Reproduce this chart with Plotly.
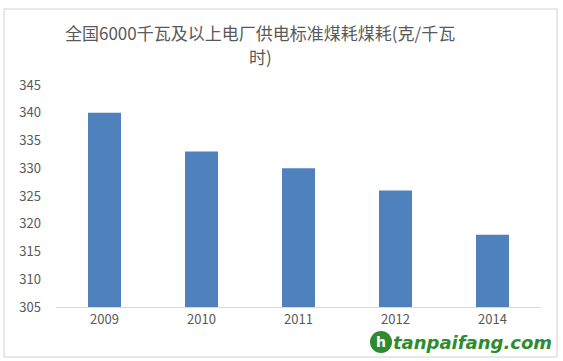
import plotly.graph_objects as go

years = ["2009", "2010", "2011", "2012", "2014"]
values = [340, 333, 330, 326, 318]
y_ticks = [305, 310, 315, 320, 325, 330, 335, 340, 345]
title_lines = ["全国6000千瓦及以上电厂供电标准煤耗煤耗(克/千瓦", "时)"]

W, H = 563, 361
L, R, T, B = 56, 22, 85, 54
PW, PH = W - L - R, H - T - B


def px(x):
    return (x - L) / PW


def py(y):
    return (H - B - y) / PH


fig = go.Figure()
fig.add_trace(go.Bar(x=years, y=values, marker=dict(color="#4F81BD", line=dict(width=0))))

annotations = []
for i, line in enumerate(title_lines):
    annotations.append(dict(text=line, xref="paper", yref="paper", x=px(260), y=py(32 + 24 * i),
                            xanchor="center", yanchor="middle", showarrow=False,
                            font=dict(size=17, color="#595959")))
annotations.append(dict(text="<b><i>tanpaifang.com</i></b>", xref="paper", yref="paper",
                        x=px(554), y=py(342), xanchor="right", yanchor="middle",
                        showarrow=False,
                        font=dict(family="DejaVu Sans, sans-serif", size=18, color="#2E8B2E")))
annotations.append(dict(text="<b>h</b>", xref="paper", yref="paper",
                        x=px(381), y=py(342), xanchor="center", yanchor="middle",
                        showarrow=False,
                        font=dict(family="DejaVu Sans, sans-serif", size=14, color="white")))

fig.update_layout(
    width=W, height=H,
    margin=dict(l=L, r=R, t=T, b=B, autoexpand=False),
    paper_bgcolor="white", plot_bgcolor="white",
    bargap=0.66,
    showlegend=False,
    hovermode=False,
    font=dict(family="Noto Sans CJK SC, Noto Sans, sans-serif", color="#595959"),
    xaxis=dict(showgrid=False, showline=True, linecolor="#D9D9D9", linewidth=1,
               ticks="", tickfont=dict(size=13, color="#595959"), automargin=False),
    yaxis=dict(range=[305, 345], tickvals=y_ticks, showgrid=False, showline=False,
               zeroline=False, ticks="", tickfont=dict(size=13, color="#595959"),
               ticklabelstandoff=14, automargin=False),
    shapes=[dict(type="rect", xref="paper", yref="paper", layer="below",
                 x0=px(4), x1=px(557), y0=py(357), y1=py(9),
                 line=dict(color="#D0D0D0", width=1), fillcolor="rgba(0,0,0,0)"),
            dict(type="circle", xref="paper", yref="paper",
                 x0=px(370), x1=px(392), y0=py(353), y1=py(331),
                 line=dict(width=0), fillcolor="#2E8B2E")],
    annotations=annotations,
)

fig.write_html("out.html", config={"displayModeBar": False},
               post_script="document.body.style.margin='0';document.body.style.padding='0';")
